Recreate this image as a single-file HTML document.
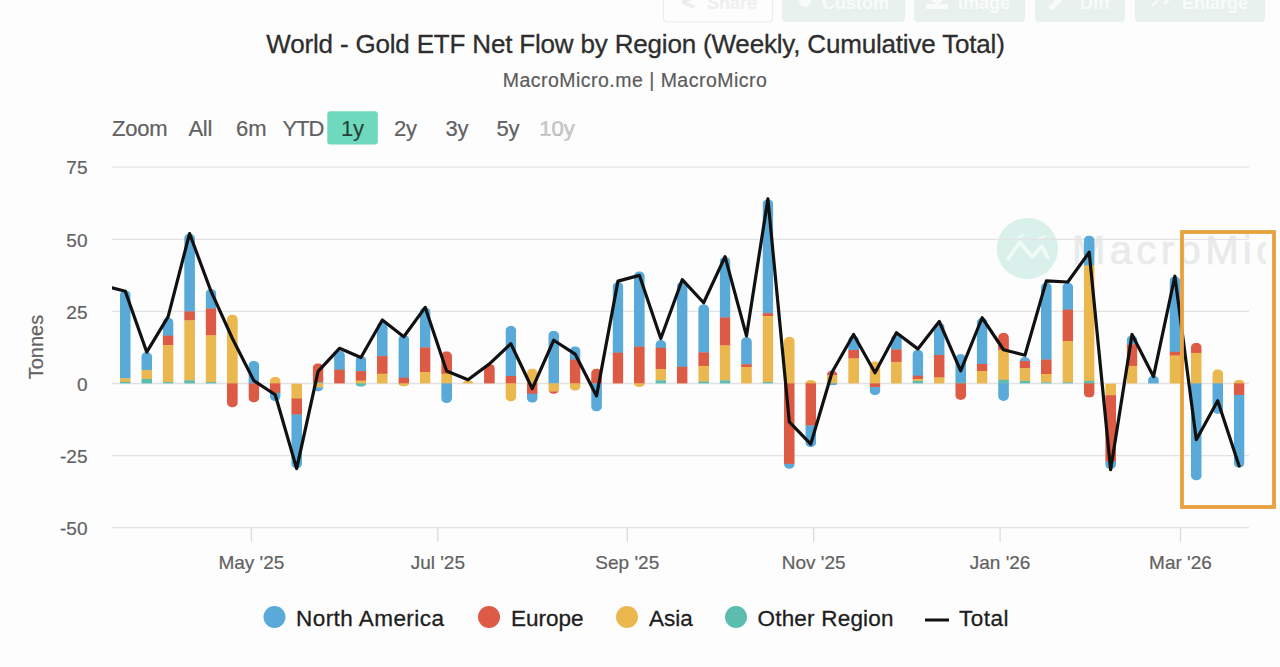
<!DOCTYPE html>
<html><head><meta charset="utf-8">
<style>
html,body{margin:0;padding:0;background:#fdfdfd;}
body{width:1280px;height:667px;overflow:hidden;position:relative;font-family:"Liberation Sans",sans-serif;}
svg{position:absolute;left:0;top:0;}
.ax{font-family:"Liberation Sans",sans-serif;font-size:19px;fill:#616161;stroke:#616161;stroke-width:0.2px;}
.title{font-family:"Liberation Sans",sans-serif;font-size:26px;letter-spacing:-0.18px;fill:#2e2e2e;stroke:#2e2e2e;stroke-width:0.3px;}
.sub{font-family:"Liberation Sans",sans-serif;font-size:19.5px;letter-spacing:0.48px;fill:#5c5c5c;stroke:#5c5c5c;stroke-width:0.2px;}
.rs{font-family:"Liberation Sans",sans-serif;font-size:22px;fill:#616161;stroke:#616161;stroke-width:0.2px;}
.lg{font-family:"Liberation Sans",sans-serif;font-size:22.5px;fill:#1e1e1e;stroke:#1e1e1e;stroke-width:0.3px;}
.tb{font-family:"Liberation Sans",sans-serif;font-size:18px;font-weight:bold;fill:#f9fbfa;}
</style></head>
<body>
<svg width="1280" height="667" viewBox="0 0 1280 667">
<defs>
<clipPath id="c0"><path d="M119.90,295.35 A5.40,5.00 0 0 1 130.70,295.35 L130.70,383.50 L119.90,383.50 Z"/></clipPath><clipPath id="c1"><path d="M141.32,357.06 A5.40,5.00 0 0 1 152.12,357.06 L152.12,383.50 L141.32,383.50 Z"/></clipPath><clipPath id="c2"><path d="M162.74,322.74 A5.40,5.00 0 0 1 173.54,322.74 L173.54,383.50 L162.74,383.50 Z"/></clipPath><clipPath id="c3"><path d="M184.16,238.53 A5.40,5.00 0 0 1 194.96,238.53 L194.96,383.50 L184.16,383.50 Z"/></clipPath><clipPath id="c4"><path d="M205.58,293.90 A5.40,5.00 0 0 1 216.38,293.90 L216.38,383.50 L205.58,383.50 Z"/></clipPath><clipPath id="c5"><path d="M227.00,319.57 A5.40,5.00 0 0 1 237.80,319.57 L237.80,402.44 A5.40,5.00 0 0 1 227.00,402.44 Z"/></clipPath><clipPath id="c6"><path d="M248.42,365.72 A5.40,5.00 0 0 1 259.22,365.72 L259.22,397.53 A5.40,5.00 0 0 1 248.42,397.53 Z"/></clipPath><clipPath id="c7"><path d="M269.84,381.87 A5.40,5.00 0 0 1 280.64,381.87 L280.64,396.09 A5.40,5.00 0 0 1 269.84,396.09 Z"/></clipPath><clipPath id="c8"><path d="M291.26,383.50 L302.06,383.50 L302.06,463.58 A5.40,5.00 0 0 1 291.26,463.58 Z"/></clipPath><clipPath id="c9"><path d="M312.68,368.31 A5.40,5.00 0 0 1 323.48,368.31 L323.48,386.58 A5.40,5.00 0 0 1 312.68,386.58 Z"/></clipPath><clipPath id="c10"><path d="M334.10,355.62 A5.40,5.00 0 0 1 344.90,355.62 L344.90,383.50 L334.10,383.50 Z"/></clipPath><clipPath id="c11"><path d="M355.52,360.81 A5.40,5.00 0 0 1 366.32,360.81 L366.32,383.50 A5.40,3.17 0 0 1 355.52,383.50 Z"/></clipPath><clipPath id="c12"><path d="M376.94,326.78 A5.40,5.00 0 0 1 387.74,326.78 L387.74,383.50 L376.94,383.50 Z"/></clipPath><clipPath id="c13"><path d="M398.36,339.76 A5.40,5.00 0 0 1 409.16,339.76 L409.16,383.50 A5.40,2.88 0 0 1 398.36,383.50 Z"/></clipPath><clipPath id="c14"><path d="M419.78,312.36 A5.40,5.00 0 0 1 430.58,312.36 L430.58,383.50 L419.78,383.50 Z"/></clipPath><clipPath id="c15"><path d="M441.20,356.20 A5.40,5.00 0 0 1 452.00,356.20 L452.00,398.11 A5.40,5.00 0 0 1 441.20,398.11 Z"/></clipPath><clipPath id="c16"><path d="M462.62,383.50 A5.40,3.17 0 0 1 473.42,383.50 L473.42,383.50 L462.62,383.50 Z"/></clipPath><clipPath id="c17"><path d="M484.04,368.89 A5.40,5.00 0 0 1 494.84,368.89 L494.84,383.50 L484.04,383.50 Z"/></clipPath><clipPath id="c18"><path d="M505.46,330.82 A5.40,5.00 0 0 1 516.26,330.82 L516.26,396.38 A5.40,5.00 0 0 1 505.46,396.38 Z"/></clipPath><clipPath id="c19"><path d="M526.88,373.50 A5.40,5.00 0 0 1 537.68,373.50 L537.68,397.82 A5.40,5.00 0 0 1 526.88,397.82 Z"/></clipPath><clipPath id="c20"><path d="M548.30,335.72 A5.40,5.00 0 0 1 559.10,335.72 L559.10,388.88 A5.40,5.00 0 0 1 548.30,388.88 Z"/></clipPath><clipPath id="c21"><path d="M569.72,351.30 A5.40,5.00 0 0 1 580.52,351.30 L580.52,385.71 A5.40,5.00 0 0 1 569.72,385.71 Z"/></clipPath><clipPath id="c22"><path d="M591.14,373.50 A5.40,5.00 0 0 1 601.94,373.50 L601.94,406.47 A5.40,5.00 0 0 1 591.14,406.47 Z"/></clipPath><clipPath id="c23"><path d="M612.56,286.98 A5.40,5.00 0 0 1 623.36,286.98 L623.36,383.50 L612.56,383.50 Z"/></clipPath><clipPath id="c24"><path d="M633.98,276.31 A5.40,5.00 0 0 1 644.78,276.31 L644.78,383.50 A5.40,3.46 0 0 1 633.98,383.50 Z"/></clipPath><clipPath id="c25"><path d="M655.40,344.95 A5.40,5.00 0 0 1 666.20,344.95 L666.20,383.50 L655.40,383.50 Z"/></clipPath><clipPath id="c26"><path d="M676.82,286.41 A5.40,5.00 0 0 1 687.62,286.41 L687.62,383.50 L676.82,383.50 Z"/></clipPath><clipPath id="c27"><path d="M698.24,309.19 A5.40,5.00 0 0 1 709.04,309.19 L709.04,383.50 L698.24,383.50 Z"/></clipPath><clipPath id="c28"><path d="M719.66,261.89 A5.40,5.00 0 0 1 730.46,261.89 L730.46,383.50 L719.66,383.50 Z"/></clipPath><clipPath id="c29"><path d="M741.08,342.07 A5.40,5.00 0 0 1 751.88,342.07 L751.88,383.50 L741.08,383.50 Z"/></clipPath><clipPath id="c30"><path d="M762.50,204.21 A5.40,5.00 0 0 1 773.30,204.21 L773.30,383.50 L762.50,383.50 Z"/></clipPath><clipPath id="c31"><path d="M783.92,341.78 A5.40,5.00 0 0 1 794.72,341.78 L794.72,463.87 A5.40,5.00 0 0 1 783.92,463.87 Z"/></clipPath><clipPath id="c32"><path d="M805.34,383.50 A5.40,3.46 0 0 1 816.14,383.50 L816.14,442.24 A5.40,5.00 0 0 1 805.34,442.24 Z"/></clipPath><clipPath id="c33"><path d="M826.76,375.52 A5.40,5.00 0 0 1 837.56,375.52 L837.56,383.50 A5.40,1.73 0 0 1 826.76,383.50 Z"/></clipPath><clipPath id="c34"><path d="M848.18,340.63 A5.40,5.00 0 0 1 858.98,340.63 L858.98,383.50 L848.18,383.50 Z"/></clipPath><clipPath id="c35"><path d="M869.60,366.29 A5.40,5.00 0 0 1 880.40,366.29 L880.40,390.32 A5.40,5.00 0 0 1 869.60,390.32 Z"/></clipPath><clipPath id="c36"><path d="M891.02,339.18 A5.40,5.00 0 0 1 901.82,339.18 L901.82,383.50 L891.02,383.50 Z"/></clipPath><clipPath id="c37"><path d="M912.44,354.76 A5.40,5.00 0 0 1 923.24,354.76 L923.24,383.50 L912.44,383.50 Z"/></clipPath><clipPath id="c38"><path d="M933.86,327.65 A5.40,5.00 0 0 1 944.66,327.65 L944.66,383.50 L933.86,383.50 Z"/></clipPath><clipPath id="c39"><path d="M955.28,359.08 A5.40,5.00 0 0 1 966.08,359.08 L966.08,394.94 A5.40,5.00 0 0 1 955.28,394.94 Z"/></clipPath><clipPath id="c40"><path d="M976.70,322.74 A5.40,5.00 0 0 1 987.50,322.74 L987.50,383.50 L976.70,383.50 Z"/></clipPath><clipPath id="c41"><path d="M998.12,337.74 A5.40,5.00 0 0 1 1008.92,337.74 L1008.92,396.09 A5.40,5.00 0 0 1 998.12,396.09 Z"/></clipPath><clipPath id="c42"><path d="M1019.54,361.97 A5.40,5.00 0 0 1 1030.34,361.97 L1030.34,383.50 L1019.54,383.50 Z"/></clipPath><clipPath id="c43"><path d="M1040.96,287.56 A5.40,5.00 0 0 1 1051.76,287.56 L1051.76,383.50 L1040.96,383.50 Z"/></clipPath><clipPath id="c44"><path d="M1062.38,287.56 A5.40,5.00 0 0 1 1073.18,287.56 L1073.18,383.50 L1062.38,383.50 Z"/></clipPath><clipPath id="c45"><path d="M1083.80,240.55 A5.40,5.00 0 0 1 1094.60,240.55 L1094.60,392.63 A5.40,5.00 0 0 1 1083.80,392.63 Z"/></clipPath><clipPath id="c46"><path d="M1105.22,383.50 L1116.02,383.50 L1116.02,464.15 A5.40,5.00 0 0 1 1105.22,464.15 Z"/></clipPath><clipPath id="c47"><path d="M1126.64,340.34 A5.40,5.00 0 0 1 1137.44,340.34 L1137.44,383.50 L1126.64,383.50 Z"/></clipPath><clipPath id="c48"><path d="M1148.06,380.42 A5.40,5.00 0 0 1 1158.86,380.42 L1158.86,383.50 L1148.06,383.50 Z"/></clipPath><clipPath id="c49"><path d="M1169.48,281.22 A5.40,5.00 0 0 1 1180.28,281.22 L1180.28,383.50 L1169.48,383.50 Z"/></clipPath><clipPath id="c50"><path d="M1190.90,347.84 A5.40,5.00 0 0 1 1201.70,347.84 L1201.70,475.40 A5.40,5.00 0 0 1 1190.90,475.40 Z"/></clipPath><clipPath id="c51"><path d="M1212.32,374.37 A5.40,5.00 0 0 1 1223.12,374.37 L1223.12,409.07 A5.40,5.00 0 0 1 1212.32,409.07 Z"/></clipPath><clipPath id="c52"><path d="M1233.74,383.50 A5.40,3.75 0 0 1 1244.54,383.50 L1244.54,462.71 A5.40,5.00 0 0 1 1233.74,462.71 Z"/></clipPath>
<clipPath id="plot"><rect x="112" y="150" width="1150" height="390"/></clipPath>
<clipPath id="wm"><rect x="980" y="200" width="286" height="100"/></clipPath>
</defs>
<rect x="0" y="0" width="1280" height="667" fill="#fdfdfd"/>
<!-- top toolbar (faded) -->
<rect x="663.5" y="-6" width="109" height="28" rx="4" fill="#fdfdfd" stroke="#ebebeb" stroke-width="1.2"/>
<rect x="782" y="-6" width="123" height="28" rx="4" fill="#e8f1ee"/>
<rect x="914" y="-6" width="111" height="28" rx="4" fill="#e8f1ee"/>
<rect x="1035" y="-6" width="90" height="28" rx="4" fill="#e8f1ee"/>
<rect x="1135" y="-6" width="130" height="28" rx="4" fill="#e8f1ee"/>
<path d="M682,2 L694,-2 M682,2 L694,7" stroke="#ededed" stroke-width="3" fill="none"/>
<text x="707" y="8.5" class="tb" style="fill:#efefef">Share</text>
<circle cx="805" cy="1" r="6" fill="#f8fbfa"/>
<text x="822" y="8.5" class="tb">Custom</text>
<rect x="926" y="4" width="22" height="5" fill="#f8fbfa"/><path d="M931,-2 L937,3 L943,-2" stroke="#f8fbfa" stroke-width="3" fill="none"/>
<text x="958" y="8.5" class="tb">Image</text>
<path d="M1050,9 L1062,-3" stroke="#f8fbfa" stroke-width="5" fill="none"/>
<text x="1080" y="8.5" class="tb">Diff</text>
<path d="M1152,6 L1158,0 M1170,-2 L1164,4" stroke="#f5f9f8" stroke-width="3" fill="none"/>
<text x="1182" y="8.5" class="tb">Enlarge</text>
<!-- title -->
<text x="635.5" y="53.2" text-anchor="middle" class="title">World - Gold ETF Net Flow by Region (Weekly, Cumulative Total)</text>
<text x="635" y="87" text-anchor="middle" class="sub">MacroMicro.me | MacroMicro</text>
<!-- range selector -->
<rect x="327.3" y="111.3" width="50.5" height="33.2" rx="3" fill="#6ed9bd"/>
<text x="112" y="136.3" class="rs" style="letter-spacing:-0.2px">Zoom</text>
<text x="188.5" y="136.3" class="rs" style="letter-spacing:-0.3px">All</text>
<text x="236" y="136.3" class="rs">6m</text>
<text x="282.5" y="136.3" class="rs" style="letter-spacing:-1.1px">YTD</text>
<text x="352.5" y="136.3" text-anchor="middle" class="rs" style="fill:#1f3f38">1y</text>
<text x="405.5" y="136.3" text-anchor="middle" class="rs">2y</text>
<text x="457" y="136.3" text-anchor="middle" class="rs">3y</text>
<text x="508" y="136.3" text-anchor="middle" class="rs">5y</text>
<text x="557" y="136.3" text-anchor="middle" class="rs" style="fill:#cfcfcf">10y</text>
<!-- watermark -->
<circle cx="1027.3" cy="248.6" r="30.6" fill="#daf1eb"/>
<path d="M1008,259 L1020,242 L1032,257 L1042,246 L1048,258" fill="none" stroke="#f1faf7" stroke-width="3.5" stroke-linejoin="round" stroke-linecap="round"/>
<path d="M1018,237 L1024,235 M1039,238 L1046,236" fill="none" stroke="#eef8f5" stroke-width="2" stroke-linecap="round"/>
<g clip-path="url(#wm)"><text x="1072" y="263.5" style="font-family:'Liberation Sans',sans-serif;font-size:40px;letter-spacing:4.4px;fill:#e8eaeb;stroke:#e8eaeb;stroke-width:0.6px">MacroMicro</text></g>
<line x1="112" y1="167.20" x2="1249" y2="167.20" stroke="#e3e3e3" stroke-width="1.3"/>
<line x1="112" y1="239.30" x2="1249" y2="239.30" stroke="#e3e3e3" stroke-width="1.3"/>
<line x1="112" y1="311.40" x2="1249" y2="311.40" stroke="#e3e3e3" stroke-width="1.3"/>
<line x1="112" y1="383.50" x2="1249" y2="383.50" stroke="#e3e3e3" stroke-width="1.3"/>
<line x1="112" y1="455.60" x2="1249" y2="455.60" stroke="#e3e3e3" stroke-width="1.3"/>
<line x1="112" y1="527.70" x2="1249" y2="527.70" stroke="#e3e3e3" stroke-width="1.3"/>

<text x="87.5" y="174.40" text-anchor="end" class="ax">75</text>
<text x="87.5" y="246.50" text-anchor="end" class="ax">50</text>
<text x="87.5" y="318.60" text-anchor="end" class="ax">25</text>
<text x="87.5" y="390.70" text-anchor="end" class="ax">0</text>
<text x="87.5" y="462.80" text-anchor="end" class="ax">-25</text>
<text x="87.5" y="534.90" text-anchor="end" class="ax">-50</text>

<text transform="translate(42.5,347) rotate(-90)" text-anchor="middle" class="ax" style="font-size:20px">Tonnes</text>
<line x1="251.4" y1="528" x2="251.4" y2="542" stroke="#dcdcdc" stroke-width="1.3"/>
<text x="251.4" y="569" text-anchor="middle" class="ax">May '25</text>
<line x1="437.8" y1="528" x2="437.8" y2="542" stroke="#dcdcdc" stroke-width="1.3"/>
<text x="437.8" y="569" text-anchor="middle" class="ax">Jul '25</text>
<line x1="627.3" y1="528" x2="627.3" y2="542" stroke="#dcdcdc" stroke-width="1.3"/>
<text x="627.3" y="569" text-anchor="middle" class="ax">Sep '25</text>
<line x1="813.7" y1="528" x2="813.7" y2="542" stroke="#dcdcdc" stroke-width="1.3"/>
<text x="813.7" y="569" text-anchor="middle" class="ax">Nov '25</text>
<line x1="1000.1" y1="528" x2="1000.1" y2="542" stroke="#dcdcdc" stroke-width="1.3"/>
<text x="1000.1" y="569" text-anchor="middle" class="ax">Jan '26</text>
<line x1="1180.5" y1="528" x2="1180.5" y2="542" stroke="#dcdcdc" stroke-width="1.3"/>
<text x="1180.5" y="569" text-anchor="middle" class="ax">Mar '26</text>

<g clip-path="url(#c0)"><rect x="119.90" y="290.35" width="10.8" height="88.26" fill="#5aaad9"/><rect x="119.90" y="378.31" width="10.8" height="3.76" fill="#ebb850"/><rect x="119.90" y="381.77" width="10.8" height="2.03" fill="#5cbcae"/></g><g clip-path="url(#c1)"><rect x="141.32" y="352.06" width="10.8" height="18.18" fill="#5aaad9"/><rect x="141.32" y="369.95" width="10.8" height="9.24" fill="#ebb850"/><rect x="141.32" y="378.89" width="10.8" height="4.91" fill="#5cbcae"/></g><g clip-path="url(#c2)"><rect x="162.74" y="317.74" width="10.8" height="18.18" fill="#5aaad9"/><rect x="162.74" y="335.63" width="10.8" height="9.82" fill="#dd5a45"/><rect x="162.74" y="345.14" width="10.8" height="37.22" fill="#ebb850"/><rect x="162.74" y="382.06" width="10.8" height="1.74" fill="#5cbcae"/></g><g clip-path="url(#c3)"><rect x="184.16" y="233.53" width="10.8" height="78.17" fill="#5aaad9"/><rect x="184.16" y="311.40" width="10.8" height="9.24" fill="#dd5a45"/><rect x="184.16" y="320.34" width="10.8" height="60.29" fill="#ebb850"/><rect x="184.16" y="380.33" width="10.8" height="3.47" fill="#5cbcae"/></g><g clip-path="url(#c4)"><rect x="205.58" y="288.90" width="10.8" height="19.91" fill="#5aaad9"/><rect x="205.58" y="308.52" width="10.8" height="27.12" fill="#dd5a45"/><rect x="205.58" y="335.34" width="10.8" height="47.02" fill="#ebb850"/><rect x="205.58" y="382.06" width="10.8" height="1.74" fill="#5cbcae"/></g><g clip-path="url(#c5)"><rect x="227.00" y="314.57" width="10.8" height="69.23" fill="#ebb850"/><rect x="227.00" y="383.35" width="10.8" height="24.24" fill="#dd5a45"/></g><g clip-path="url(#c6)"><rect x="248.42" y="360.72" width="10.8" height="23.08" fill="#5aaad9"/><rect x="248.42" y="383.35" width="10.8" height="19.33" fill="#dd5a45"/></g><g clip-path="url(#c7)"><rect x="269.84" y="376.87" width="10.8" height="6.93" fill="#ebb850"/><rect x="269.84" y="383.35" width="10.8" height="9.82" fill="#dd5a45"/><rect x="269.84" y="392.87" width="10.8" height="8.38" fill="#5aaad9"/></g><g clip-path="url(#c8)"><rect x="291.26" y="383.35" width="10.8" height="15.30" fill="#ebb850"/><rect x="291.26" y="398.35" width="10.8" height="16.45" fill="#dd5a45"/><rect x="291.26" y="414.50" width="10.8" height="54.23" fill="#5aaad9"/></g><g clip-path="url(#c9)"><rect x="312.68" y="363.31" width="10.8" height="19.33" fill="#dd5a45"/><rect x="312.68" y="382.35" width="10.8" height="1.45" fill="#5cbcae"/><rect x="312.68" y="383.35" width="10.8" height="4.34" fill="#ebb850"/><rect x="312.68" y="387.39" width="10.8" height="4.34" fill="#5aaad9"/></g><g clip-path="url(#c10)"><rect x="334.10" y="350.62" width="10.8" height="19.33" fill="#5aaad9"/><rect x="334.10" y="369.66" width="10.8" height="14.14" fill="#dd5a45"/></g><g clip-path="url(#c11)"><rect x="355.52" y="355.81" width="10.8" height="15.59" fill="#5aaad9"/><rect x="355.52" y="371.10" width="10.8" height="9.82" fill="#dd5a45"/><rect x="355.52" y="380.62" width="10.8" height="3.18" fill="#ebb850"/><rect x="355.52" y="383.35" width="10.8" height="3.47" fill="#5cbcae"/></g><g clip-path="url(#c12)"><rect x="376.94" y="321.78" width="10.8" height="34.62" fill="#5aaad9"/><rect x="376.94" y="356.10" width="10.8" height="17.89" fill="#dd5a45"/><rect x="376.94" y="373.69" width="10.8" height="10.11" fill="#ebb850"/></g><g clip-path="url(#c13)"><rect x="398.36" y="334.76" width="10.8" height="43.27" fill="#5aaad9"/><rect x="398.36" y="377.73" width="10.8" height="6.07" fill="#dd5a45"/><rect x="398.36" y="383.35" width="10.8" height="3.18" fill="#ebb850"/></g><g clip-path="url(#c14)"><rect x="419.78" y="307.36" width="10.8" height="40.39" fill="#5aaad9"/><rect x="419.78" y="347.45" width="10.8" height="24.81" fill="#dd5a45"/><rect x="419.78" y="371.96" width="10.8" height="11.84" fill="#ebb850"/></g><g clip-path="url(#c15)"><rect x="441.20" y="351.20" width="10.8" height="22.80" fill="#dd5a45"/><rect x="441.20" y="373.69" width="10.8" height="10.11" fill="#ebb850"/><rect x="441.20" y="383.35" width="10.8" height="19.91" fill="#5aaad9"/></g><g clip-path="url(#c16)"><rect x="462.62" y="380.33" width="10.8" height="3.47" fill="#ebb850"/></g><g clip-path="url(#c17)"><rect x="484.04" y="363.89" width="10.8" height="19.91" fill="#dd5a45"/></g><g clip-path="url(#c18)"><rect x="505.46" y="325.82" width="10.8" height="50.48" fill="#5aaad9"/><rect x="505.46" y="376.00" width="10.8" height="7.80" fill="#dd5a45"/><rect x="505.46" y="383.35" width="10.8" height="18.18" fill="#ebb850"/></g><g clip-path="url(#c19)"><rect x="526.88" y="368.50" width="10.8" height="15.30" fill="#ebb850"/><rect x="526.88" y="383.35" width="10.8" height="10.68" fill="#dd5a45"/><rect x="526.88" y="393.73" width="10.8" height="9.24" fill="#5aaad9"/></g><g clip-path="url(#c20)"><rect x="548.30" y="330.72" width="10.8" height="53.08" fill="#5aaad9"/><rect x="548.30" y="383.35" width="10.8" height="8.38" fill="#ebb850"/><rect x="548.30" y="391.43" width="10.8" height="2.61" fill="#dd5a45"/></g><g clip-path="url(#c21)"><rect x="569.72" y="346.30" width="10.8" height="13.57" fill="#5aaad9"/><rect x="569.72" y="359.56" width="10.8" height="24.24" fill="#dd5a45"/><rect x="569.72" y="383.35" width="10.8" height="7.51" fill="#ebb850"/></g><g clip-path="url(#c22)"><rect x="591.14" y="368.50" width="10.8" height="15.30" fill="#dd5a45"/><rect x="591.14" y="383.35" width="10.8" height="28.27" fill="#5aaad9"/></g><g clip-path="url(#c23)"><rect x="612.56" y="281.98" width="10.8" height="70.96" fill="#5aaad9"/><rect x="612.56" y="352.64" width="10.8" height="31.16" fill="#dd5a45"/></g><g clip-path="url(#c24)"><rect x="633.98" y="271.31" width="10.8" height="75.57" fill="#5aaad9"/><rect x="633.98" y="346.58" width="10.8" height="37.22" fill="#dd5a45"/><rect x="633.98" y="383.35" width="10.8" height="3.76" fill="#ebb850"/></g><g clip-path="url(#c25)"><rect x="655.40" y="339.95" width="10.8" height="8.09" fill="#5aaad9"/><rect x="655.40" y="347.74" width="10.8" height="21.64" fill="#dd5a45"/><rect x="655.40" y="369.08" width="10.8" height="11.55" fill="#ebb850"/><rect x="655.40" y="380.33" width="10.8" height="3.47" fill="#5cbcae"/></g><g clip-path="url(#c26)"><rect x="676.82" y="281.41" width="10.8" height="85.67" fill="#5aaad9"/><rect x="676.82" y="366.77" width="10.8" height="17.03" fill="#dd5a45"/></g><g clip-path="url(#c27)"><rect x="698.24" y="304.19" width="10.8" height="48.46" fill="#5aaad9"/><rect x="698.24" y="352.35" width="10.8" height="13.85" fill="#dd5a45"/><rect x="698.24" y="365.91" width="10.8" height="15.87" fill="#ebb850"/><rect x="698.24" y="381.48" width="10.8" height="2.32" fill="#5cbcae"/></g><g clip-path="url(#c28)"><rect x="719.66" y="256.89" width="10.8" height="60.86" fill="#5aaad9"/><rect x="719.66" y="317.46" width="10.8" height="28.27" fill="#dd5a45"/><rect x="719.66" y="345.43" width="10.8" height="35.20" fill="#ebb850"/><rect x="719.66" y="380.33" width="10.8" height="3.47" fill="#5cbcae"/></g><g clip-path="url(#c29)"><rect x="741.08" y="337.07" width="10.8" height="27.41" fill="#5aaad9"/><rect x="741.08" y="364.18" width="10.8" height="3.18" fill="#dd5a45"/><rect x="741.08" y="367.06" width="10.8" height="16.74" fill="#ebb850"/></g><g clip-path="url(#c30)"><rect x="762.50" y="199.21" width="10.8" height="114.22" fill="#5aaad9"/><rect x="762.50" y="313.13" width="10.8" height="3.18" fill="#dd5a45"/><rect x="762.50" y="316.01" width="10.8" height="66.34" fill="#ebb850"/><rect x="762.50" y="382.06" width="10.8" height="1.74" fill="#5cbcae"/></g><g clip-path="url(#c31)"><rect x="783.92" y="336.78" width="10.8" height="47.02" fill="#ebb850"/><rect x="783.92" y="383.35" width="10.8" height="80.76" fill="#dd5a45"/><rect x="783.92" y="463.81" width="10.8" height="5.20" fill="#5aaad9"/></g><g clip-path="url(#c32)"><rect x="805.34" y="380.04" width="10.8" height="3.76" fill="#ebb850"/><rect x="805.34" y="383.35" width="10.8" height="42.41" fill="#dd5a45"/><rect x="805.34" y="425.46" width="10.8" height="21.93" fill="#5aaad9"/></g><g clip-path="url(#c33)"><rect x="826.76" y="370.52" width="10.8" height="4.91" fill="#dd5a45"/><rect x="826.76" y="375.14" width="10.8" height="8.66" fill="#ebb850"/><rect x="826.76" y="383.35" width="10.8" height="2.03" fill="#5aaad9"/></g><g clip-path="url(#c34)"><rect x="848.18" y="335.63" width="10.8" height="14.72" fill="#5aaad9"/><rect x="848.18" y="350.05" width="10.8" height="8.66" fill="#dd5a45"/><rect x="848.18" y="358.41" width="10.8" height="25.39" fill="#ebb850"/></g><g clip-path="url(#c35)"><rect x="869.60" y="361.29" width="10.8" height="22.51" fill="#ebb850"/><rect x="869.60" y="383.35" width="10.8" height="4.05" fill="#dd5a45"/><rect x="869.60" y="387.10" width="10.8" height="8.38" fill="#5aaad9"/></g><g clip-path="url(#c36)"><rect x="891.02" y="334.18" width="10.8" height="15.59" fill="#5aaad9"/><rect x="891.02" y="349.47" width="10.8" height="12.70" fill="#dd5a45"/><rect x="891.02" y="361.87" width="10.8" height="21.93" fill="#ebb850"/></g><g clip-path="url(#c37)"><rect x="912.44" y="349.76" width="10.8" height="26.26" fill="#5aaad9"/><rect x="912.44" y="375.71" width="10.8" height="3.76" fill="#dd5a45"/><rect x="912.44" y="379.17" width="10.8" height="2.03" fill="#ebb850"/><rect x="912.44" y="380.90" width="10.8" height="2.90" fill="#5cbcae"/></g><g clip-path="url(#c38)"><rect x="933.86" y="322.65" width="10.8" height="32.60" fill="#5aaad9"/><rect x="933.86" y="354.95" width="10.8" height="22.80" fill="#dd5a45"/><rect x="933.86" y="377.44" width="10.8" height="6.36" fill="#ebb850"/></g><g clip-path="url(#c39)"><rect x="955.28" y="354.08" width="10.8" height="28.27" fill="#5aaad9"/><rect x="955.28" y="382.06" width="10.8" height="1.74" fill="#5cbcae"/><rect x="955.28" y="383.35" width="10.8" height="16.74" fill="#dd5a45"/></g><g clip-path="url(#c40)"><rect x="976.70" y="317.74" width="10.8" height="46.44" fill="#5aaad9"/><rect x="976.70" y="363.89" width="10.8" height="7.51" fill="#dd5a45"/><rect x="976.70" y="371.10" width="10.8" height="12.70" fill="#ebb850"/></g><g clip-path="url(#c41)"><rect x="998.12" y="332.74" width="10.8" height="17.32" fill="#dd5a45"/><rect x="998.12" y="349.76" width="10.8" height="30.29" fill="#ebb850"/><rect x="998.12" y="379.75" width="10.8" height="4.05" fill="#5cbcae"/><rect x="998.12" y="383.35" width="10.8" height="17.89" fill="#5aaad9"/></g><g clip-path="url(#c42)"><rect x="1019.54" y="356.97" width="10.8" height="4.34" fill="#5aaad9"/><rect x="1019.54" y="361.00" width="10.8" height="7.51" fill="#dd5a45"/><rect x="1019.54" y="368.21" width="10.8" height="12.99" fill="#ebb850"/><rect x="1019.54" y="380.90" width="10.8" height="2.90" fill="#5cbcae"/></g><g clip-path="url(#c43)"><rect x="1040.96" y="282.56" width="10.8" height="77.30" fill="#5aaad9"/><rect x="1040.96" y="359.56" width="10.8" height="14.72" fill="#dd5a45"/><rect x="1040.96" y="373.98" width="10.8" height="8.66" fill="#ebb850"/><rect x="1040.96" y="382.35" width="10.8" height="1.45" fill="#5cbcae"/></g><g clip-path="url(#c44)"><rect x="1062.38" y="282.56" width="10.8" height="27.41" fill="#5aaad9"/><rect x="1062.38" y="309.67" width="10.8" height="31.74" fill="#dd5a45"/><rect x="1062.38" y="341.11" width="10.8" height="41.54" fill="#ebb850"/><rect x="1062.38" y="382.35" width="10.8" height="1.45" fill="#5cbcae"/></g><g clip-path="url(#c45)"><rect x="1083.80" y="235.55" width="10.8" height="30.29" fill="#5aaad9"/><rect x="1083.80" y="265.54" width="10.8" height="115.66" fill="#ebb850"/><rect x="1083.80" y="380.90" width="10.8" height="2.90" fill="#5cbcae"/><rect x="1083.80" y="383.35" width="10.8" height="14.43" fill="#dd5a45"/></g><g clip-path="url(#c46)"><rect x="1105.22" y="383.35" width="10.8" height="12.12" fill="#ebb850"/><rect x="1105.22" y="395.17" width="10.8" height="66.63" fill="#dd5a45"/><rect x="1105.22" y="461.51" width="10.8" height="7.80" fill="#5aaad9"/></g><g clip-path="url(#c47)"><rect x="1126.64" y="335.34" width="10.8" height="9.24" fill="#5aaad9"/><rect x="1126.64" y="344.28" width="10.8" height="21.93" fill="#dd5a45"/><rect x="1126.64" y="365.91" width="10.8" height="17.89" fill="#ebb850"/></g><g clip-path="url(#c48)"><rect x="1148.06" y="375.42" width="10.8" height="8.38" fill="#5aaad9"/></g><g clip-path="url(#c49)"><rect x="1169.48" y="276.22" width="10.8" height="75.86" fill="#5aaad9"/><rect x="1169.48" y="351.78" width="10.8" height="4.05" fill="#dd5a45"/><rect x="1169.48" y="355.53" width="10.8" height="28.27" fill="#ebb850"/></g><g clip-path="url(#c50)"><rect x="1190.90" y="342.84" width="10.8" height="10.39" fill="#dd5a45"/><rect x="1190.90" y="352.93" width="10.8" height="30.87" fill="#ebb850"/><rect x="1190.90" y="383.35" width="10.8" height="97.20" fill="#5aaad9"/></g><g clip-path="url(#c51)"><rect x="1212.32" y="369.37" width="10.8" height="14.43" fill="#ebb850"/><rect x="1212.32" y="383.35" width="10.8" height="30.87" fill="#5aaad9"/></g><g clip-path="url(#c52)"><rect x="1233.74" y="379.75" width="10.8" height="4.05" fill="#ebb850"/><rect x="1233.74" y="383.35" width="10.8" height="11.84" fill="#dd5a45"/><rect x="1233.74" y="394.89" width="10.8" height="72.98" fill="#5aaad9"/></g>
<polyline clip-path="url(#plot)" points="112.00,287.75 125.30,291.21 146.72,352.06 168.14,316.59 189.56,233.53 210.98,291.21 232.40,338.51 253.82,380.62 275.24,394.75 296.66,468.58 318.08,371.39 339.50,348.32 360.92,357.54 382.34,320.05 403.76,336.78 425.18,307.36 446.60,371.10 468.02,379.75 489.44,363.89 510.86,343.70 532.28,388.69 553.70,340.24 575.12,354.08 596.54,395.90 617.96,281.12 639.38,275.35 660.80,338.51 682.22,279.68 703.64,302.75 725.06,256.60 746.48,335.91 767.90,198.92 789.32,421.86 810.74,444.06 832.16,371.96 853.58,334.47 875.00,372.83 896.42,332.74 917.84,348.89 939.26,321.49 960.68,370.81 982.10,317.74 1003.52,349.76 1024.94,355.24 1046.36,280.83 1067.78,281.98 1089.20,252.28 1110.62,469.73 1132.04,334.47 1153.46,376.58 1174.88,276.22 1196.30,439.74 1217.72,400.80 1239.14,465.98" fill="none" stroke="#111" stroke-width="3.2" stroke-linejoin="round" stroke-linecap="round"/>
<!-- orange highlight box -->
<rect x="1182" y="232" width="92" height="275" fill="none" stroke="#e9a03e" stroke-width="3.8"/>
<!-- legend -->
<circle cx="274.5" cy="617" r="11" fill="#5aaad9"/>
<text x="296" y="626" class="lg" style="letter-spacing:0.45px">North America</text>
<circle cx="489" cy="617" r="11" fill="#dd5a45"/>
<text x="511" y="626" class="lg">Europe</text>
<circle cx="627" cy="617" r="11" fill="#ebb850"/>
<text x="649" y="626" class="lg">Asia</text>
<circle cx="736" cy="617" r="11" fill="#5cbcae"/>
<text x="757.5" y="626" class="lg" style="letter-spacing:0.2px">Other Region</text>
<line x1="925" y1="620" x2="949" y2="620" stroke="#111" stroke-width="3"/>
<text x="959" y="626" class="lg" style="letter-spacing:0.5px">Total</text>
</svg>
</body></html>
